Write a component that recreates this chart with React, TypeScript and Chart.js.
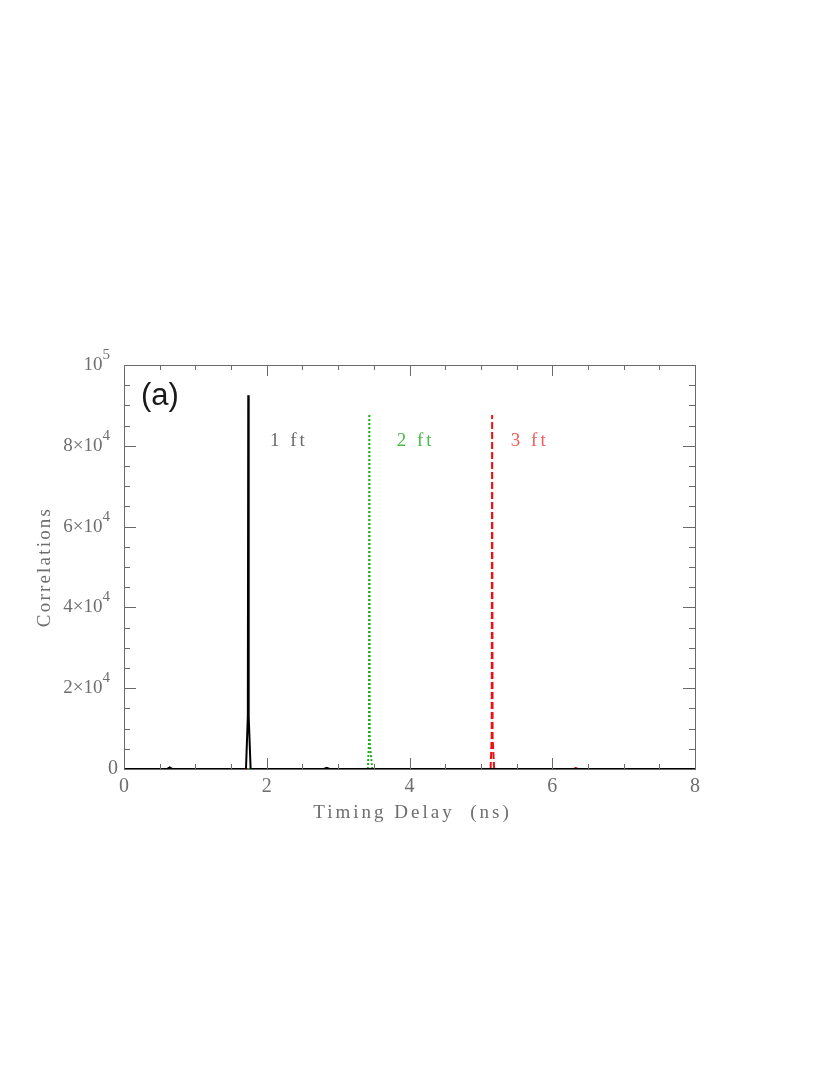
import React, { useEffect, useRef } from 'react';
import { Chart, registerables } from 'chart.js';

Chart.register(...registerables);

// ---- Data (Timing delay in ns, correlations in counts) ----
// null entries only break the path so each leg of a dashed spike starts its own dash pattern
const delay1ft = [0, 0.6, 0.64, 0.68, 1.709, 1.735, 1.741, 1.747, 1.774, 2.8, 2.84, 2.88, 8];
const corr1ft = [0, 0, 400, 0, 0, 13000, 92500, 13000, 0, 0, 300, 0, 0];

const delay2ft = [0, 3.416, 3.42, 3.416, 3.432, 3.437, 3.44, 3.479, 3.443, 3.437, 3.45, 3.479, 8];
const corr2ft = [0, 0, null, 0, 6500, 87900, null, 0, 6500, 87900, null, 0, 0];

const delay3ft = [0, 5.136, 5.14, 5.136, 5.152, 5.158, 5.16, 5.186, 5.164, 5.158, 5.17, 5.186, 6.3, 6.33, 6.36, 8];
const corr3ft = [0, 0, null, 0, 8000, 87600, null, 0, 8000, 87600, null, 0, 0, 300, 0, 0];

const seriesNames = ['1 ft', '2 ft', '3 ft'];
const seriesColors = ['#000000', '#1fb01f', '#ee1111'];
const labelColors = ['#6a6a6a', '#4cb84c', '#f05a5a'];

// ---- Axes ----
const xMin = 0;
const xMax = 8;
const xMajorStep = 2;
const xMinorStep = 0.5;
const xTickLabels = ['0', '2', '4', '6', '8'];

const yMin = 0;
const yMax = 100000;
const yMajorStep = 20000;
const yMinorStep = 5000;
const yTickMain = ['0', '2×10', '4×10', '6×10', '8×10', '10'];
const yTickSup = ['', '4', '4', '4', '4', '5'];

const xTitle = 'Timing Delay  (ns)';
const yTitle = 'Correlations';
const panelLabel = '(a)';

// annotation anchors in data units
const seriesLabelX = [2.045, 3.82, 5.42];
const seriesLabelY = 80000;
const panelLabelPos = { x: 0.238, y: 90000 };

const TEXT = '#6e6e6e';
const FRAME = '#6a6a6a';
const SERIF = '"Liberation Serif", "DejaVu Serif", serif';

function makePoints(xs: number[], ys: (number | null)[]) {
  return xs.map((x, i) => ({ x, y: ys[i] }));
}

const decorPlugin = {
  id: 'decor',
  afterDraw(chart: any) {
    const ctx: CanvasRenderingContext2D = chart.ctx;
    const { left, right, top, bottom } = chart.chartArea;
    const xs = chart.scales.x;
    const ys = chart.scales.y;
    ctx.save();

    // frame
    ctx.strokeStyle = FRAME;
    ctx.lineWidth = 1;
    ctx.strokeRect(Math.round(left) + 0.5, Math.round(top) + 0.5, Math.round(right - left), Math.round(bottom - top));

    // x ticks (inward, top & bottom)
    const nX = Math.round((xMax - xMin) / xMinorStep);
    for (let i = 0; i <= nX; i++) {
      const v = xMin + i * xMinorStep;
      const px = Math.round(xs.getPixelForValue(v)) + 0.5;
      const major = Math.abs(v / xMajorStep - Math.round(v / xMajorStep)) < 1e-6;
      const len = major ? 11 : 5;
      ctx.beginPath();
      ctx.moveTo(px, bottom);
      ctx.lineTo(px, bottom - len);
      ctx.moveTo(px, top);
      ctx.lineTo(px, top + len);
      ctx.stroke();
    }
    // y ticks (inward, left & right)
    const nY = Math.round((yMax - yMin) / yMinorStep);
    for (let i = 0; i <= nY; i++) {
      const v = yMin + i * yMinorStep;
      const py = Math.round(ys.getPixelForValue(v)) + 0.5;
      const major = v % yMajorStep === 0;
      const len = major ? 12 : 6;
      ctx.beginPath();
      ctx.moveTo(left, py);
      ctx.lineTo(left + len, py);
      ctx.moveTo(right, py);
      ctx.lineTo(right - len, py);
      ctx.stroke();
    }

    ctx.fillStyle = TEXT;
    // x tick labels
    ctx.font = `20px ${SERIF}`;
    ctx.textAlign = 'center';
    ctx.textBaseline = 'middle';
    xTickLabels.forEach((t, i) => {
      const v = xMin + i * xMajorStep;
      ctx.fillText(t, xs.getPixelForValue(v), bottom + 18);
    });

    // y tick labels with superscripts
    yTickMain.forEach((t, i) => {
      const v = yMin + i * yMajorStep;
      const py = ys.getPixelForValue(v);
      const sup = yTickSup[i];
      ctx.textBaseline = 'middle';
      if (!sup) {
        ctx.font = `20px ${SERIF}`;
        ctx.textAlign = 'right';
        ctx.fillText(t, left - 6, py);
        return;
      }
      ctx.font = `15px ${SERIF}`;
      const sw = ctx.measureText(sup).width;
      ctx.textAlign = 'right';
      const supRight = left - 14;
      ctx.fillText(sup, supRight, py - 10);
      ctx.font = `19px ${SERIF}`;
      ctx.fillText(t, supRight - sw, py);
    });

    // titles
    (ctx as any).letterSpacing = '3px';
    ctx.font = `19px ${SERIF}`;
    ctx.textAlign = 'left';
    ctx.textBaseline = 'alphabetic';
    const tw = ctx.measureText(xTitle).width;
    ctx.fillText(xTitle, (left + right) / 2 + 3 - tw / 2, bottom + 49);

    (ctx as any).letterSpacing = '2.2px';
    const yw = ctx.measureText(yTitle).width;
    ctx.save();
    ctx.translate(50, (top + bottom) / 2);
    ctx.rotate(-Math.PI / 2);
    ctx.fillText(yTitle, -yw / 2, 0);
    ctx.restore();

    // series labels
    (ctx as any).letterSpacing = '3px';
    ctx.font = `19px ${SERIF}`;
    seriesNames.forEach((name, i) => {
      ctx.fillStyle = labelColors[i];
      ctx.fillText(name, xs.getPixelForValue(seriesLabelX[i]), ys.getPixelForValue(seriesLabelY));
    });

    // panel label
    (ctx as any).letterSpacing = '0px';
    ctx.fillStyle = '#1a1a1a';
    ctx.font = `31px "Liberation Sans", Arial, sans-serif`;
    ctx.fillText(panelLabel, xs.getPixelForValue(panelLabelPos.x), ys.getPixelForValue(panelLabelPos.y));

    ctx.restore();
  },
};

export default function App() {
  const ref = useRef<HTMLCanvasElement | null>(null);

  useEffect(() => {
    if (!ref.current) return;
    const chart = new Chart(ref.current, {
      type: 'line',
      data: {
        datasets: [
          {
            label: seriesNames[0],
            data: makePoints(delay1ft, corr1ft),
            borderColor: seriesColors[0],
            borderWidth: 2,
            pointRadius: 0,
            tension: 0,
          },
          {
            label: seriesNames[1],
            data: makePoints(delay2ft, corr2ft),
            borderColor: seriesColors[1],
            borderWidth: 2,
            borderDash: [2, 2],
            pointRadius: 0,
            tension: 0,
            spanGaps: false,
          },
          {
            label: seriesNames[2],
            data: makePoints(delay3ft, corr3ft),
            borderColor: seriesColors[2],
            borderWidth: 2,
            borderDash: [7, 3],
            pointRadius: 0,
            tension: 0,
            spanGaps: false,
          },
        ],
      },
      options: {
        animation: false,
        responsive: false,
        devicePixelRatio: 1,
        layout: { padding: { left: 124, right: 135, top: 365, bottom: 306 } },
        plugins: { legend: { display: false }, tooltip: { enabled: false } },
        scales: {
          x: {
            type: 'linear',
            min: xMin,
            max: xMax,
            ticks: { display: false, stepSize: xMajorStep },
            grid: { display: false, drawTicks: false },
            border: { display: false },
            afterFit: (s: any) => { s.height = 0; },
          },
          y: {
            type: 'linear',
            min: yMin,
            max: yMax,
            ticks: { display: false, stepSize: yMajorStep },
            grid: { display: false, drawTicks: false },
            border: { display: false },
            afterFit: (s: any) => { s.width = 0; },
          },
        },
      },
      plugins: [decorPlugin],
    } as any);
    return () => chart.destroy();
  }, []);

  return (
    <div style={{ position: 'absolute', left: 0, top: 0, width: 830, height: 1075, background: '#fff' }}>
      <canvas ref={ref} width={830} height={1075} />
    </div>
  );
}
